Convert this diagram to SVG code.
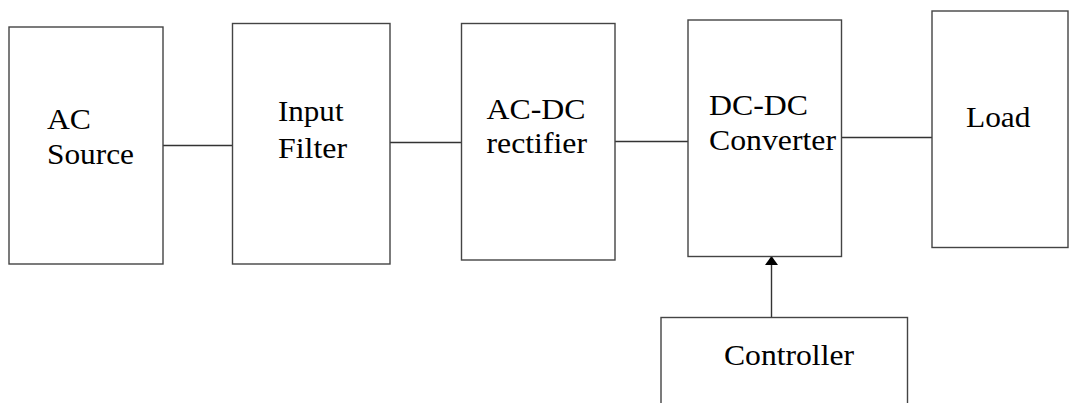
<svg xmlns="http://www.w3.org/2000/svg" width="1073" height="403" viewBox="0 0 1073 403">
<style>
.box{fill:#fff;stroke:#444;stroke-width:1.4}
.t{font-family:'Liberation Serif','DejaVu Serif',serif;font-size:30px;fill:#000}
.c{stroke:#333;stroke-width:1.4;fill:none}
</style>
<defs>
<marker id="ah" markerWidth="9" markerHeight="13" refX="9" refY="6.5" orient="auto" markerUnits="userSpaceOnUse">
<path d="M0,0 L9,6.5 L0,13 Z" fill="#000"/>
</marker>
</defs>
<rect width="1073" height="403" fill="#fff"/>
<g id="connectors">
<line class="c" x1="163" y1="145.5" x2="232.5" y2="145.5"/>
<line class="c" x1="390" y1="142.5" x2="461.5" y2="142.5"/>
<line class="c" x1="615" y1="141.5" x2="688" y2="141.5"/>
<line class="c" x1="841.5" y1="137.5" x2="932" y2="137.5"/>
<line class="c" x1="771.5" y1="317" x2="771.5" y2="256" marker-end="url(#ah)"/>
</g>
<g id="ac-source">
<rect class="box" x="9" y="27" width="154" height="237"/>
<text class="t" x="47" y="129" textLength="44" lengthAdjust="spacingAndGlyphs">AC</text>
<text class="t" x="47" y="164" textLength="87" lengthAdjust="spacingAndGlyphs">Source</text>
</g>
<g id="input-filter">
<rect class="box" x="232.5" y="23.5" width="157.5" height="240.5"/>
<text class="t" x="278" y="121" textLength="65.5" lengthAdjust="spacingAndGlyphs">Input</text>
<text class="t" x="278" y="157.5" textLength="69" lengthAdjust="spacingAndGlyphs">Filter</text>
</g>
<g id="ac-dc-rectifier">
<rect class="box" x="461.5" y="23.5" width="153.5" height="236.5"/>
<text class="t" x="486.5" y="119" textLength="99" lengthAdjust="spacingAndGlyphs">AC-DC</text>
<text class="t" x="486.5" y="153" textLength="100.5" lengthAdjust="spacingAndGlyphs">rectifier</text>
</g>
<g id="dc-dc-converter">
<rect class="box" x="688" y="20" width="153.5" height="236.5"/>
<text class="t" x="709" y="115" textLength="99" lengthAdjust="spacingAndGlyphs">DC-DC</text>
<text class="t" x="709" y="150" textLength="127" lengthAdjust="spacingAndGlyphs">Converter</text>
</g>
<g id="load">
<rect class="box" x="932" y="11" width="136" height="236.5"/>
<text class="t" x="966" y="126.5" textLength="64.5" lengthAdjust="spacingAndGlyphs">Load</text>
</g>
<g id="controller">
<rect class="box" x="661" y="317.5" width="246.5" height="100"/>
<text class="t" x="724" y="365" textLength="130" lengthAdjust="spacingAndGlyphs">Controller</text>
</g>
</svg>
